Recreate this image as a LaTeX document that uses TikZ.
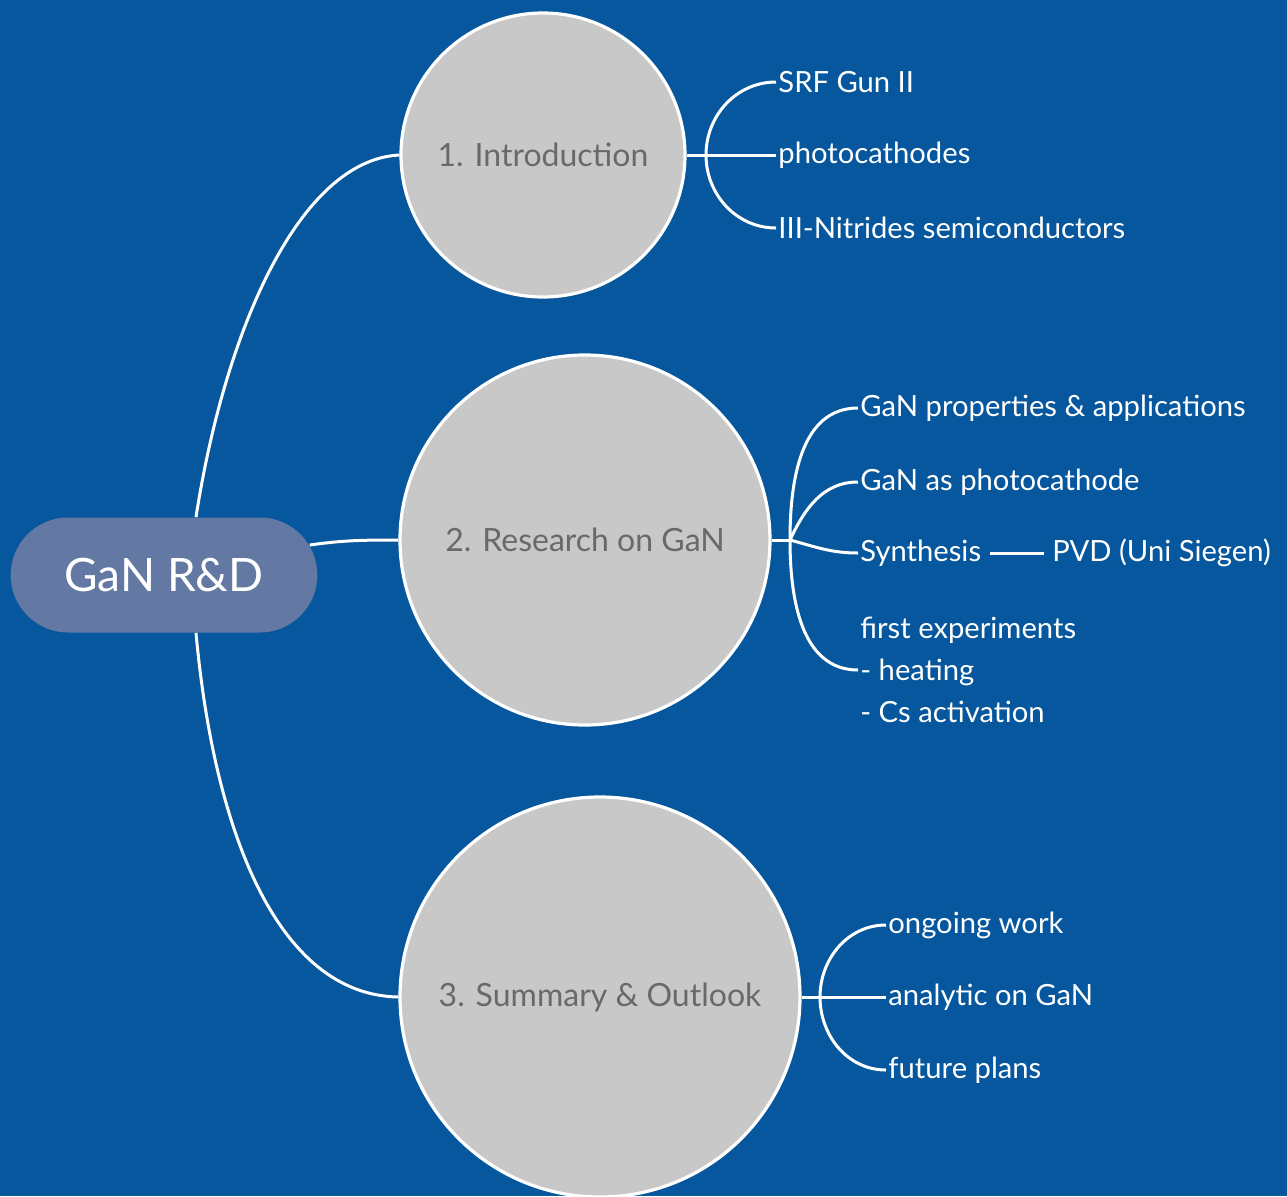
\documentclass[tikz,border=0pt]{standalone}
\usepackage{fontspec}
\setmainfont{Lato}
\usetikzlibrary{shapes.misc}
\definecolor{fondo}{RGB}{6,87,157}
\definecolor{raiz}{RGB}{99,121,163}
\definecolor{gristema}{RGB}{200,200,200}
\definecolor{textotema}{RGB}{105,105,105}
\tikzstyle{raizmapa} = [rounded rectangle, fill=raiz, minimum width=160pt, minimum height=57.5pt, text=white, font=\fontsize{23}{27}\selectfont]
\tikzstyle{tema} = [circle, draw=white, line width=1.6pt, fill=gristema, text=textotema, inner sep=0pt, font=\fontsize{16}{19}\selectfont]
\tikzstyle{hoja} = [anchor=west, text=white, inner sep=1pt, align=left, font=\fontsize{14.6}{21}\selectfont]
\tikzstyle{rama} = [draw=white, line width=1.5pt]

\begin{document}
\begin{tikzpicture}[x=0.5pt,y=-0.5pt]
	\useasboundingbox (0,0) rectangle (1287,1196);
	\fill[fondo] (0,0) rectangle (1287,1196);
	\node[raizmapa] (gan) at (164,575) {GaN R\&D};
	\node[tema, minimum size=142pt] (intro) at (543,155) {1. Introduction};
	\node[tema, minimum size=185pt] (research) at (585,540) {2. Research on GaN};
	\node[tema, minimum size=200pt] (summary) at (600,997) {3. Summary \& Outlook};
	\draw[rama] ([xshift=16pt]gan.north) .. controls +(29,-187) and +(-100,5) .. (intro.west);
	\draw[rama] ([xshift=-4pt,yshift=15pt]gan.east) to[out=8,in=180] (research.west);
	\draw[rama] ([xshift=16pt]gan.south) .. controls +(18,198) and +(-121,-2) .. (summary.west);

	\node[hoja] (srf) at (776,82) {SRF Gun II};
	\node[hoja] (photo) at (776,155) {photocathodes};
	\node[hoja] (nitrides) at (776,228) {III-Nitrides semiconductors};
	\coordinate (f1) at (706,155);
	\draw[rama] (intro.east) -- (photo.west);
	\draw[rama] (f1) to[out=90,in=180] (srf.west);
	\draw[rama] (f1) to[out=-90,in=180] (nitrides.west);

	\node[hoja] (props) at (858,408) {GaN properties \& applications};
	\node[hoja] (asphoto) at (858,482) {GaN as photocathode};
	\node[hoja] (synth) at (858,553) {Synthesis};
	\node[hoja] (pvd) at (1050,553) {PVD (Uni Siegen)};
	\node[hoja] (exp) at (858,670) {first experiments\\- heating\\- Cs activation};
	\coordinate (f2) at (790,540);
	\draw[rama] (research.east) -- (f2);
	\draw[rama] (f2) to[out=90,in=180] (props.west);
	\draw[rama] (f2) to[out=65,in=180] (asphoto.west);
	\draw[rama] (f2) to[out=-15,in=180] (synth.west);
	\draw[rama] (f2) to[out=-90,in=180] (exp.west);
	\draw[rama] ([xshift=3pt]synth.east) -- ([xshift=-3pt]pvd.west);

	\node[hoja] (ongoing) at (886,925) {ongoing work};
	\node[hoja] (analytic) at (886,997) {analytic on GaN};
	\node[hoja] (future) at (886,1070) {future plans};
	\coordinate (f3) at (820,997);
	\draw[rama] (summary.east) -- (analytic.west);
	\draw[rama] (f3) to[out=90,in=180] (ongoing.west);
	\draw[rama] (f3) to[out=-90,in=180] (future.west);
\end{tikzpicture}
\end{document}
